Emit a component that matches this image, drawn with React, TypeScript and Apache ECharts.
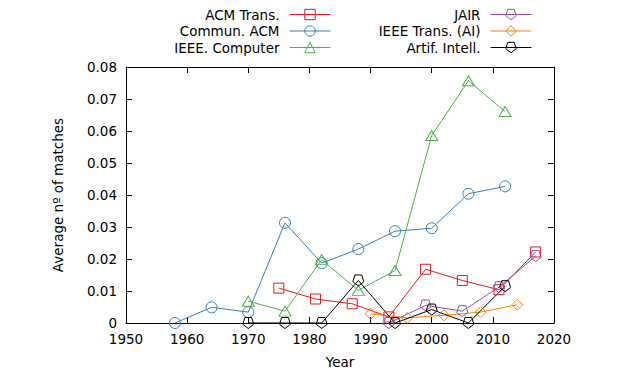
import React, { useEffect, useRef } from "react";
import * as echarts from "echarts";

const seriesNames = ["ACM Trans.", "Commun. ACM", "IEEE. Computer", "JAIR", "IEEE Trans. (AI)", "Artif. Intell."];
const seriesColors = ["#e41a1c", "#377eb8", "#4daf4a", "#984ea3", "#ff7f00", "#000000"];

const acmTransYears = [1975, 1981, 1987, 1993, 1999, 2005, 2011, 2017];
const acmTransValues = [0.0109, 0.0075, 0.006, 0.0019, 0.0168, 0.0133, 0.0104, 0.0222];

const communYears = [1958, 1964, 1970, 1976, 1982, 1988, 1994, 2000, 2006, 2012];
const communValues = [0, 0.0049, 0.0034, 0.0313, 0.0187, 0.0231, 0.0287, 0.0296, 0.0404, 0.0427];

const computerYears = [1970, 1976, 1982, 1988, 1994, 2000, 2006, 2012];
const computerValues = [0.0068, 0.0037, 0.0198, 0.0102, 0.0164, 0.0586, 0.0757, 0.0661];

const jairYears = [1993, 1999, 2005, 2011, 2017];
const jairValues = [0, 0.0055, 0.0037, 0.0112, 0.0209];

const ieeeAIYears = [1990, 1996, 2002, 2008, 2014];
const ieeeAIValues = [0.0029, 0.0016, 0.0024, 0.0034, 0.0057];

const aiYears = [1970, 1976, 1982, 1988, 1994, 2000, 2006, 2012];
const aiValues = [0, 0, 0, 0.0133, 0, 0.0042, 0, 0.0115];

const xMin = 1950;
const xMax = 2020;
const xInterval = 10;
const yMin = 0;
const yMax = 0.08;
const yInterval = 0.01;

const FONT = "DejaVu Sans";
const PENT = "path://M0,1L-0.951,0.309L-0.588,-0.809L0.588,-0.809L0.951,0.309Z";

export default function App() {
  const ref = useRef<HTMLDivElement>(null);
  useEffect(() => {
    const chart = echarts.init(ref.current!, null, { renderer: "svg" });
    const years = [acmTransYears, communYears, computerYears, jairYears, ieeeAIYears, aiYears];
    const values = [acmTransValues, communValues, computerValues, jairValues, ieeeAIValues, aiValues];
    const symbols = ["rect", "circle", "triangle", PENT, "diamond", PENT];
    const sizes: any[] = [10, 11, [12, 10], 11, 11, 11];

    const series = seriesNames.map((name, i) => ({
      type: "line",
      name,
      xAxisIndex: 0,
      yAxisIndex: 0,
      data: years[i].map((y, j) => [y, values[i][j]]),
      symbol: symbols[i],
      symbolSize: sizes[i],
      showSymbol: true,
      showAllSymbol: true,
      clip: false,
      lineStyle: { color: seriesColors[i], width: 1 },
      itemStyle: { color: "rgba(0,0,0,0)", borderColor: seriesColors[i], borderWidth: 1 },
      emphasis: { disabled: true },
    }));

    const rowTops = [7.5, 24, 40.5];
    const legends = seriesNames.map((name, i) => ({
      data: [name],
      orient: "horizontal",
      align: "right",
      padding: 0,
      right: i < 3 ? 292 : 91,
      top: rowTops[i % 3],
      itemWidth: 41,
      itemHeight: 13,
      selectedMode: false,
      itemStyle: { borderWidth: 1 },
      lineStyle: { width: 1 },
      textStyle: { fontFamily: FONT, fontSize: 13.5, color: "#000", padding: [0, 5, 0, 0] },
    }));

    const axisLine = { show: true, onZero: false, lineStyle: { color: "#000", width: 1 } };
    const axisTick = { show: true, inside: true, length: 6, lineStyle: { color: "#000", width: 1 } };
    const labelStyle = { color: "#000", fontFamily: FONT, fontSize: 13.5 };

    chart.setOption({
      animation: false,
      backgroundColor: "#fff",
      grid: { left: 126, right: 69, top: 67, bottom: 51, containLabel: false },
      legend: legends,
      xAxis: [
        {
          type: "value", min: xMin, max: xMax, interval: xInterval, position: "bottom",
          name: "Year", nameLocation: "middle", nameGap: 32,
          nameTextStyle: { ...labelStyle },
          axisLine, axisTick,
          axisLabel: { ...labelStyle, margin: 9, formatter: (v: number) => String(v) },
          splitLine: { show: false },
        },
        {
          type: "value", min: xMin, max: xMax, interval: xInterval, position: "top",
          axisLine, axisTick, axisLabel: { show: false }, splitLine: { show: false },
        },
      ],
      yAxis: [
        {
          type: "value", min: yMin, max: yMax, interval: yInterval, position: "left",
          name: "Average nº of matches", nameLocation: "middle", nameGap: 61, nameRotate: 90,
          nameTextStyle: { ...labelStyle },
          axisLine, axisTick,
          axisLabel: {
            ...labelStyle, margin: 9,
            formatter: (v: number) => (v === 0 ? "0" : v.toFixed(2)),
          },
          splitLine: { show: false },
        },
        {
          type: "value", min: yMin, max: yMax, interval: yInterval, position: "right",
          axisLine, axisTick, axisLabel: { show: false }, splitLine: { show: false },
        },
      ],
      series,
    });
    return () => chart.dispose();
  }, []);
  return <div ref={ref} style={{ position: "fixed", left: 0, top: 0, width: 623, height: 374 }} />;
}
